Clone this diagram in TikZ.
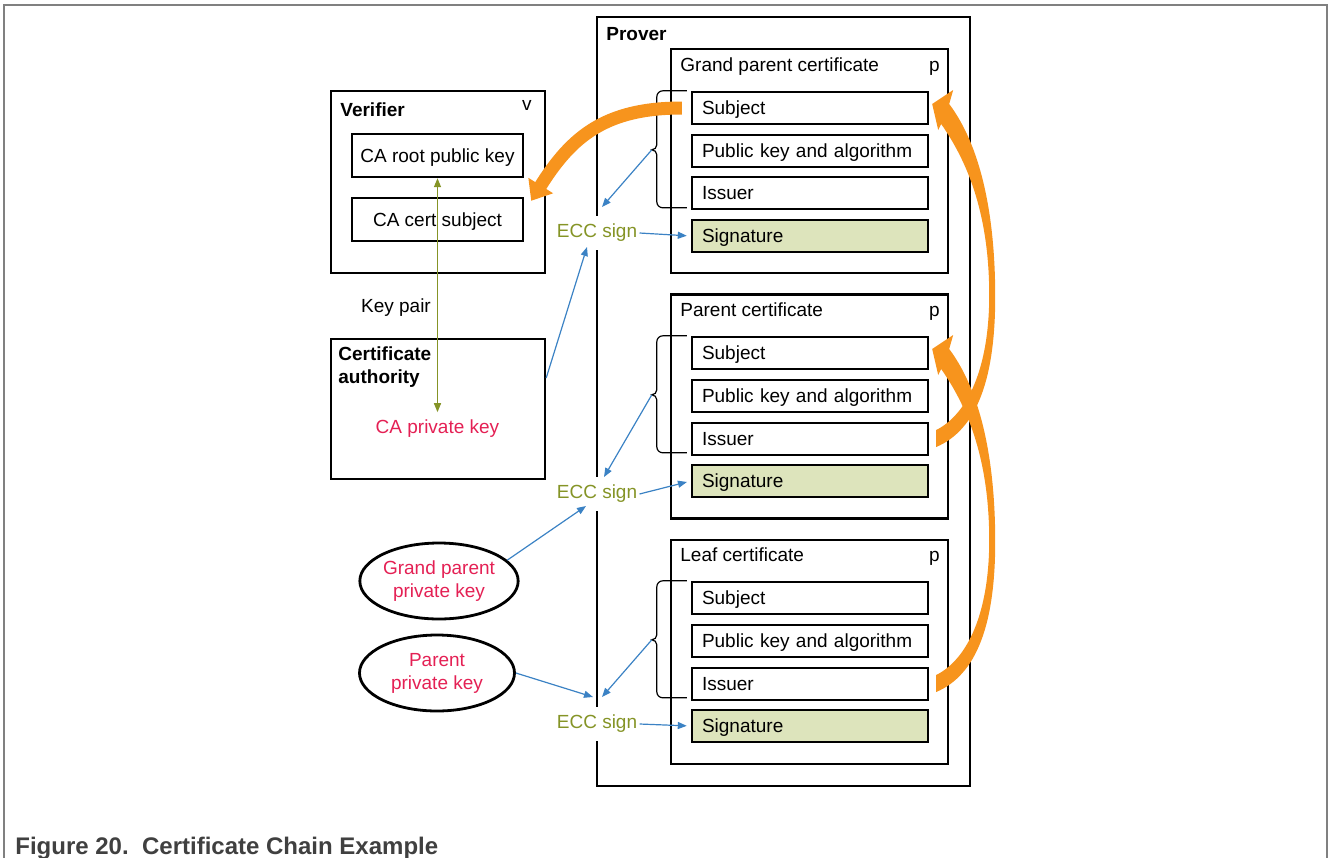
\documentclass[tikz,border=0pt]{standalone}
\usepackage{fontspec}
\setmainfont{Liberation Sans}
\usetikzlibrary{arrows.meta,shapes.geometric}
\definecolor{eccolive}{RGB}{133,148,38}
\definecolor{keyred}{RGB}{228,32,84}
\definecolor{arrowblue}{RGB}{59,130,196}
\definecolor{chainorange}{RGB}{247,148,29}
\definecolor{sigfill}{RGB}{221,228,188}
\definecolor{framegray}{RGB}{128,128,128}
\definecolor{captiongray}{RGB}{64,64,64}
\begin{document}
\begin{tikzpicture}[x=0.5pt,y=0.5pt,
    font=\fontsize{9.5pt}{11.5pt}\selectfont,
    box/.style={draw,line width=1.2pt},
    certbox/.style={box,minimum width=138.5pt,minimum height=112pt},
    field/.style={box,minimum height=16pt,text width=108pt,inner xsep=5pt,
      inner ysep=0pt,text height=9pt,text depth=2.4pt,align=left},
    sigfield/.style={field,fill=sigfill},
    keybox/.style={box,minimum width=85.5pt,minimum height=21.5pt,
      text height=9pt,text depth=2.4pt},
    keyoval/.style={draw,ellipse,line width=1.4pt,minimum width=77.5pt,
      minimum height=38pt,text=keyred,align=center,inner sep=0pt},
    title/.style={anchor=base west,inner sep=0pt},
    heading/.style={title,font=\fontsize{9.5pt}{11.5pt}\selectfont\bfseries},
    plabel/.style={anchor=base east,inner sep=0pt},
    ecc/.style={text=eccolive,fill=white,inner xsep=1pt,inner ysep=4.3pt},
    brace/.style={draw,line width=0.6pt},
    signarrow/.style={draw=arrowblue,line width=0.6pt,
      -{Triangle[length=4.5pt,width=3.5pt]}},
    pairarrow/.style={draw=eccolive,line width=0.7pt,
      {Triangle[length=4.5pt,width=3.5pt]}-{Triangle[length=4.5pt,width=3.5pt]}},
    chainline/.style={draw=chainorange,line width=6.5pt,
      -{Triangle[length=9pt,width=14pt]}}]
  \useasboundingbox (0,0) rectangle (1330,-858);
  \draw[framegray,line width=1pt] (4,-858) -- (4,-5) -- (1327,-5) -- (1327,-858);

  % verifier and certificate authority
  \node[box,minimum width=107pt,minimum height=91pt] (ve) at (438,-182) {};
  \node[heading] (vet) at (340,-116) {Verifier};
  \node[plabel] (vev) at (532,-110) {v};
  \node[keybox] (crpk) at (437.5,-155.5) {CA root public key};
  \node[keybox] (ccs) at (437.5,-219.5) {CA cert subject};
  \node[anchor=base] (kp) at (396,-312) {Key pair};
  \node[box,minimum width=107pt,minimum height=70pt] (ca) at (438,-409) {};
  \node[heading,anchor=north west,align=left] (cat) at (338,-346) {Certificate\\authority};
  \node[anchor=base,text=keyred] (capk) at (437.5,-433) {CA private key};
  \node[keyoval] (gpkey) at (439,-581) {Grand parent\\private key};
  \node[keyoval] (pakey) at (437,-673) {Parent\\private key};

  % prover
  \node[box,minimum width=186.5pt,minimum height=384.5pt] (pr) at (783.5,-401.5) {};
  \node[heading] (prt) at (606,-40) {Prover};

  \node[certbox] (gp) at (809.5,-161) {};
  \node[title] (gpt) at (680,-71) {Grand parent certificate};
  \node[plabel] (gpp) at (940,-71) {p};
  \node[field] (gps) at (810,-108) {Subject};
  \node[field] (gpu) at (810,-151) {Public key and algorithm};
  \node[field] (gpi) at (810,-193) {Issuer};
  \node[sigfield] (gpg) at (810,-236) {Signature};

  \node[certbox] (pa) at (809.5,-406.5) {};
  \node[title] (pat) at (680,-316) {Parent certificate};
  \node[plabel] (pap) at (940,-316) {p};
  \node[field] (pas) at (810,-353) {Subject};
  \node[field] (pau) at (810,-396) {Public key and algorithm};
  \node[field] (pai) at (810,-439) {Issuer};
  \node[sigfield] (pag) at (810,-481) {Signature};

  \node[certbox] (lf) at (809.5,-652) {};
  \node[title] (lft) at (680,-561) {Leaf certificate};
  \node[plabel] (lfp) at (940,-561) {p};
  \node[field] (lfs) at (810,-598) {Subject};
  \node[field] (lfu) at (810,-641) {Public key and algorithm};
  \node[field] (lfi) at (810,-684) {Issuer};
  \node[sigfield] (lfg) at (810,-726) {Signature};

  % braces over subject .. issuer
  \draw[brace] ([xshift=-2pt]gps.north west) -- ++(-24,0) to[out=180,in=90] ++(-6,-6)
    -- ++(0,-48) to[out=-90,in=0] ++(-5,-5) coordinate (gpb) to[out=0,in=90] ++(5,-5)
    -- ++(0,-47) to[out=-90,in=180] ++(6,-6) -- ++(24,0);
  \draw[brace] ([xshift=-2pt]pas.north west) -- ++(-24,0) to[out=180,in=90] ++(-6,-6)
    -- ++(0,-48) to[out=-90,in=0] ++(-5,-5) coordinate (pab) to[out=0,in=90] ++(5,-5)
    -- ++(0,-47) to[out=-90,in=180] ++(6,-6) -- ++(24,0);
  \draw[brace] ([xshift=-2pt]lfs.north west) -- ++(-24,0) to[out=180,in=90] ++(-6,-6)
    -- ++(0,-48) to[out=-90,in=0] ++(-5,-5) coordinate (lfb) to[out=0,in=90] ++(5,-5)
    -- ++(0,-47) to[out=-90,in=180] ++(6,-6) -- ++(24,0);

  % signing
  \node[ecc] (ecc1) at (597,-233) {ECC sign};
  \node[ecc] (ecc2) at (597,-494) {ECC sign};
  \node[ecc] (ecc3) at (597,-724) {ECC sign};
  \draw[signarrow] (gpb) -- ([shift={(5,26)}]ecc1.center);
  \draw[signarrow] ([shift={(0,31)}]ca.east) -- ([shift={(-10,-14)}]ecc1.center);
  \draw[signarrow,shorten >=2pt] (ecc1.east) -- (gpg.west);
  \draw[signarrow] (pab) -- ([shift={(7,17)}]ecc2.center);
  \draw[signarrow] (gpkey.17) -- ([shift={(-11,-12)}]ecc2.center);
  \draw[signarrow,shorten >=2pt] (ecc2.east) -- (pag.west);
  \draw[signarrow] (lfb) -- ([shift={(5,27)}]ecc3.center);
  \draw[signarrow] (pakey.east) -- ([shift={(-4,27)}]ecc3.center);
  \draw[signarrow,shorten >=2pt] (ecc3.east) -- (lfg.west);
  \draw[pairarrow] (capk.north) -- (crpk.south);

  % chain of subjects and issuers
  \draw[chainline] ([xshift=-4.5pt]gps.west) to[out=180,in=58,looseness=1.1] ([shift={(7,-4)}]ccs.north east);
  \fill[chainorange,shift={(pai.east)}] (7,9) -- (7,-8) .. controls (47,9) and (67,59) .. (66,149)
    .. controls (65,239) and (47,299) .. (20,335) -- (24,349) -- (3,335) -- (9,309) -- (12,315)
    .. controls (37,279) and (59,229) .. (60,149) .. controls (61,69) and (37,24) .. (7,9) -- cycle;
  \fill[chainorange,shift={(lfi.east)}] (7,9) -- (7,-8) .. controls (47,9) and (67,59) .. (66,149)
    .. controls (65,239) and (47,299) .. (20,335) -- (24,349) -- (3,335) -- (9,309) -- (12,315)
    .. controls (37,279) and (59,229) .. (60,149) .. controls (61,69) and (37,24) .. (7,9) -- cycle;

  \node[anchor=base west,inner sep=0pt,text=captiongray,
    font=\fontsize{12pt}{14pt}\selectfont\bfseries] (cap) at (15,-854) {Figure 20.\ \ Certificate Chain Example};
\end{tikzpicture}
\end{document}
